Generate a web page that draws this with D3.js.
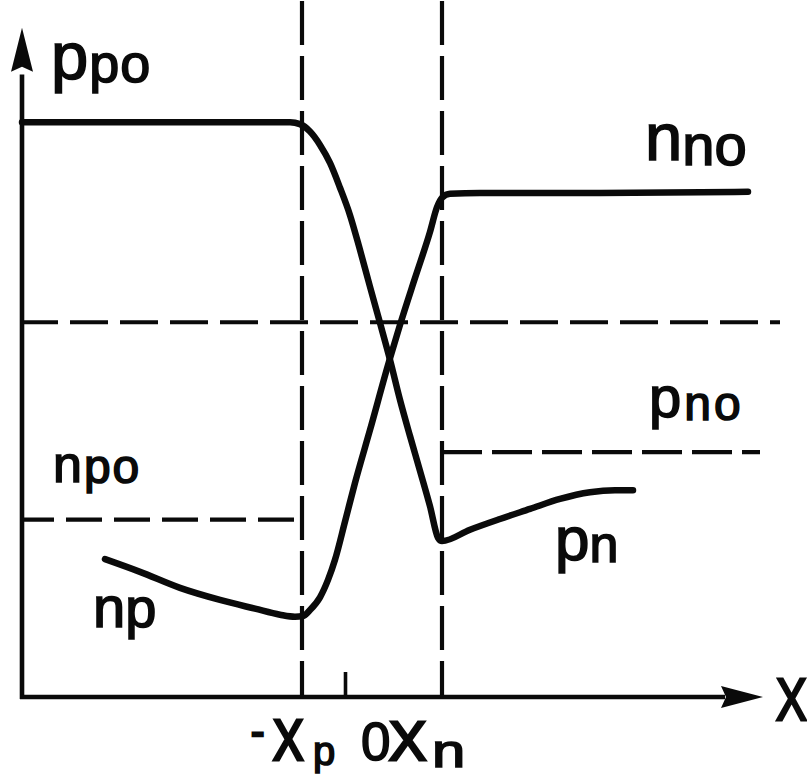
<!DOCTYPE html>
<html><head><meta charset="utf-8">
<script src="https://cdn.jsdelivr.net/npm/d3@7"></script>
<style>html,body{margin:0;padding:0;background:#fff;} svg{display:block;}</style>
</head><body><svg id="c" width="807" height="779"></svg>
<script>
// ---------- data (arbitrary units: x position, y concentration) ----------
const holeX = [-32.3, -5.5, -4.5, -3.5, -2.5, -1.5, -0.5, 0.5, 1.5, 2.5, 3.5, 4.5, 5.5, 6.5, 7.5, 8.5, 9.3, 9.7, 12.5, 15.5, 18.5, 21.5, 24.5, 27.0, 28.8];
const holeY = [85.9, 85.9, 85.6, 84.5, 82.5, 79.8, 76.1, 72.0, 66.8, 61.3, 55.9, 50.4, 44.4, 39.0, 33.8, 28.5, 23.8, 23.3, 25.0, 26.6, 28.1, 29.6, 30.6, 30.9, 30.9];
const elecX = [-24.0, -20.5, -16.5, -12.5, -9.0, -6.5, -5.0, -4.2, -3.5, -2.5, -1.7, -1.0, 0.0, 1.0, 2.5, 4.4, 5.5, 7.0, 8.5, 9.2, 9.7, 10.5, 13.5, 25.5, 40.3];
const elecY = [20.6, 18.7, 16.3, 14.5, 13.2, 12.3, 12.0, 12.1, 13.0, 14.9, 17.5, 20.5, 26.2, 32.0, 39.9, 50.1, 55.6, 62.6, 69.5, 73.2, 74.6, 75.2, 75.3, 75.3, 75.5];
const levelNames = ["ppo", "nno", "mid", "pno", "npo"];
const levelValues = [85.9, 75.3, 56.0, 36.6, 26.5];
const edgeNames = ["-Xp", "Xn"];
const edgeValues = [-4.3, 9.7];
const tickValues = [-4.3, 0, 9.7];
const tickMain = ["X", "0", "X"];
const tickSub = ["p", "", "n"];
const curveMain = ["p", "n", "p", "n", "n", "p"];
const curveSub = ["po", "no", "no", "po", "p", "n"];
const axisLabel = "X";

// ---------- layout ----------
const svg = d3.select("#c");
const x = d3.scaleLinear().domain([-32.5, 42]).range([20, 765]);
const y = d3.scaleLinear().domain([0, 104]).range([697, 1]);
const ink = "#0a0a0a";
const FONT = "Liberation Sans, Arial, sans-serif";
const TS = 1.6; // text stroke to mimic heavy lettering
const lv = name => levelValues[levelNames.indexOf(name)];

function txt(sel, sw) {
  return sel.attr("font-family", FONT).attr("fill", ink).attr("stroke", ink).attr("stroke-width", sw || TS);
}

// dashed reference lines
const dashed = svg.append("g").attr("stroke", ink).attr("fill", "none").attr("stroke-width", 4.2);
edgeValues.forEach(v => {
  dashed.append("line").attr("x1", x(v)).attr("x2", x(v)).attr("y1", y(104)).attr("y2", y(0))
    .attr("stroke-dasharray", "44,11");
});
dashed.append("line").attr("x1", x(-32.5)).attr("x2", x(43.5)).attr("y1", y(lv("mid"))).attr("y2", y(lv("mid")))
  .attr("stroke-dasharray", "38,12");
dashed.append("line").attr("x1", x(-32.3)).attr("x2", x(edgeValues[0])).attr("y1", y(lv("npo"))).attr("y2", y(lv("npo")))
  .attr("stroke-dasharray", "36,12").attr("stroke-dashoffset", 4);
dashed.append("line").attr("x1", x(edgeValues[1])).attr("x2", x(41.5)).attr("y1", y(lv("pno"))).attr("y2", y(lv("pno")))
  .attr("stroke-dasharray", "40,10");

// axes
const ax = svg.append("g");
ax.append("line").attr("x1", x(-32.3)).attr("x2", x(-32.3)).attr("y1", y(0) + 2).attr("y2", y(93))
  .attr("stroke", ink).attr("stroke-width", 4.6);
ax.append("line").attr("x1", x(-32.3) - 2).attr("x2", x(38)).attr("y1", y(0)).attr("y2", y(0))
  .attr("stroke", ink).attr("stroke-width", 4.6);
// arrowheads
const ax0 = x(-32.3), yTip = y(100), xTip = x(41.8), y0 = y(0);
ax.append("path").attr("fill", ink)
  .attr("d", `M${ax0},${yTip} L${ax0 + 11},${yTip + 44} L${ax0},${yTip + 39} L${ax0 - 11},${yTip + 44} Z`);
ax.append("path").attr("fill", ink)
  .attr("d", `M${xTip},${y0} L${xTip - 42},${y0 - 11} L${xTip - 37},${y0} L${xTip - 42},${y0 + 11} Z`);
// tick at origin
const xAxis = d3.axisBottom(x).tickValues([0]).tickSize(-25).tickSizeOuter(0).tickFormat("");
const gx = svg.append("g").attr("transform", `translate(0,${y0})`).call(xAxis);
gx.select(".domain").remove();
gx.selectAll(".tick line").attr("stroke", ink).attr("stroke-width", 3.6);

// curves
const line = d3.line().x(d => x(d[0])).y(d => y(d[1])).curve(d3.curveMonotoneX);
const holes = holeX.map((v, i) => [v, holeY[i]]);
const elecs = elecX.map((v, i) => [v, elecY[i]]);
[holes, elecs].forEach(dat => {
  svg.append("path").datum(dat).attr("d", line).attr("fill", "none").attr("stroke", ink)
    .attr("stroke-width", 6.5).attr("stroke-linejoin", "round").attr("stroke-linecap", "round");
});

// curve / level labels
function lab(px, py, main, sub, fm, fs, dy, ls) {
  const t = txt(svg.append("text").attr("x", px).attr("y", py)).attr("letter-spacing", ls);
  t.append("tspan").attr("font-size", fm).text(main);
  t.append("tspan").attr("font-size", fs).attr("dy", dy).text(sub);
}
// annotation anchors in data units: [x, y, mainSize, subSize, dy, letterSpacing]
const anchors = [
  [-29.4, 92.3, 67, 54, 3, 1],
  [30.0, 80.2, 67, 58, 5, 0],
  [30.4, 41.8, 58, 48, 3, 3],
  [-29.2, 32.1, 52, 48, 1, 2],
  [-25.2, 10.5, 58, 56, 0, 0],
  [21.0, 20.5, 62, 52, 2, 0]
];
anchors.forEach((a, i) => lab(x(a[0]), y(a[1]), curveMain[i], curveSub[i], a[2], a[3], a[4], a[5]));

// tick labels
tickValues.forEach((v, i) => {
  const cx = x(v);
  if (i === 0) {
    txt(svg.append("text"), 2.5).attr("x", cx - 51).attr("y", 745).attr("font-size", 40).text("-");
    txt(svg.append("text"), 3.2).attr("transform", `translate(${cx - 29},760) scale(0.8,1)`).attr("font-size", 57).text(tickMain[i]);
    txt(svg.append("text")).attr("x", cx + 11).attr("y", 765).attr("font-size", 40).text(tickSub[i]);
  } else if (i === 1) {
    txt(svg.append("text")).attr("x", cx + 16).attr("y", 760).attr("font-size", 53).text(tickMain[i]);
  } else {
    txt(svg.append("text"), 2.8).attr("x", cx - 53).attr("y", 760).attr("font-size", 56).text(tickMain[i]);
    txt(svg.append("text")).attr("transform", `translate(${cx - 10},767) scale(1.3,1)`).attr("font-size", 46).text(tickSub[i]);
  }
});
txt(svg.append("text"), 2.8).attr("transform", `translate(${x(43.1)},720) scale(0.77,1)`)
  .attr("font-size", 60).text(axisLabel);
</script></body></html>
